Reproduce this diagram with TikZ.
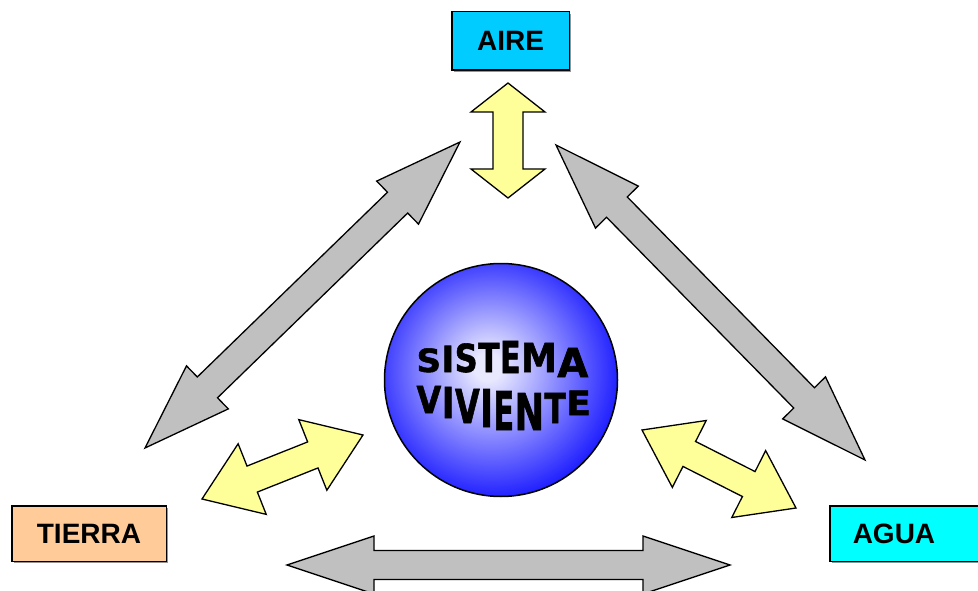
\documentclass[tikz,border=0pt]{standalone}
\usepackage{fontspec}
\setmainfont{Liberation Sans}
\newfontfamily\blobfont{DejaVu Sans}[BoldFeatures={FakeBold=1.5}]
\usetikzlibrary{calc,shadows}

\definecolor{airecol}{HTML}{00CCFF}
\definecolor{aguacol}{HTML}{00FFFF}
\definecolor{tierracol}{HTML}{FFCC99}
\definecolor{arrowgray}{HTML}{C0C0C0}
\definecolor{arrowyellow}{HTML}{FFFF99}
\definecolor{spherelight}{HTML}{E8E8FF}
\definecolor{sphereblue}{HTML}{2020FF}

\pgfdeclareradialshading{sphere}{\pgfpoint{-3bp}{3bp}}{color(0bp)=(spherelight); color(3bp)=(spherelight); color(27bp)=(sphereblue); color(60bp)=(sphereblue)}

% block double arrow: style, from, to, head length, head half width, shaft half width
\newcommand{\blockarrow}[6]{%
  \draw[#1] (#2) -- ($(#2)!#4!(#3)!#5!90:(#3)$) -- ($(#2)!#4!(#3)!#6!90:(#3)$)
    -- ($(#3)!#4!(#2)!#6!-90:(#2)$) -- ($(#3)!#4!(#2)!#5!-90:(#2)$) -- (#3)
    -- ($(#3)!#4!(#2)!#5!90:(#2)$) -- ($(#3)!#4!(#2)!#6!90:(#2)$)
    -- ($(#2)!#4!(#3)!#6!-90:(#3)$) -- ($(#2)!#4!(#3)!#5!-90:(#3)$) -- cycle;}

\tikzset{
labelbox/.style = {draw, line width=1.5pt, font=\bfseries\fontsize{28}{30}\selectfont, drop shadow={shadow xshift=2pt, shadow yshift=-2pt, fill=black!70, opacity=0.6}},
grayarrow/.style = {draw, line width=1.3pt, line join=miter, fill=arrowgray},
yellowarrow/.style = {draw, line width=1.3pt, line join=miter, fill=arrowyellow},
warp/.style = {font=\blobfont\bfseries\fontsize{40}{40}\selectfont, inner sep=0pt, anchor=base}
}

\begin{document}
\begin{tikzpicture}[x=1pt, y=-1pt]
	\useasboundingbox (0,0) rectangle (978,591);
	\clip (0,0) rectangle (978,591);

	\node[labelbox, fill=airecol, minimum width=117.5, minimum height=58.5] (aire) at (510.5,41) {AIRE};
	\node[labelbox, fill=tierracol, minimum width=154.5, minimum height=55.5] (tierra) at (89,533.5) {TIERRA};
	\node[labelbox, fill=aguacol, minimum height=55.5, inner xsep=23pt, text width=113.5pt, align=left] (agua) at (909.5,533.5) {AGUA};

	\node[circle, draw, line width=1.5pt, minimum size=233, inner sep=0pt, shading=sphere] (sistema) at (501,380) {};

	% arrow ends
	\coordinate (vtop) at (508,83);
	\coordinate (vbot) at (508,198);
	\coordinate (lgA) at (145,448);
	\coordinate (lgB) at (460,142);
	\coordinate (rgA) at (556,145);
	\coordinate (rgB) at (865,460);
	\coordinate (bgA) at (287,565);
	\coordinate (bgB) at (730,565);
	\coordinate (lyA) at (202,499);
	\coordinate (lyB) at (363,435);
	\coordinate (ryA) at (642,430);
	\coordinate (ryB) at (796,508);

	\blockarrow{yellowarrow}{vtop}{vbot}{29pt}{37pt}{15pt}
	\blockarrow{grayarrow}{lgA}{lgB}{87pt}{30pt}{14.5pt}
	\blockarrow{grayarrow}{rgA}{rgB}{87pt}{30pt}{14.5pt}
	\blockarrow{grayarrow}{bgA}{bgB}{87pt}{29pt}{14.5pt}
	\blockarrow{yellowarrow}{lyA}{lyB}{54pt}{38pt}{14pt}
	\blockarrow{yellowarrow}{ryA}{ryB}{53pt}{37.5pt}{14pt}

	% warped title
	\foreach \ch/\x/\b/\h/\w [count=\i] in {S/428.8/372/24/0.85, I/447.9/372/27/0.85, S/466.2/372/29/0.8, T/488.9/372/30/0.78, E/510.3/373/33/0.75, M/538.9/372/30/0.9, A/572.8/377/30/1.0}
		\node[warp, xscale=\w, yscale=\h/30] (sis\i) at (\x,\b) {\ch};
	\foreach \ch/\x/\b/\h/\w [count=\i] in {V/428.9/413/28/0.8, I/448.2/418/32/0.85, V/467.4/423/35/0.8, I/486.7/427/39/0.85, E/503.8/430/40/0.75, N/529.3/430/38/0.88, T/555.2/423/31/0.78, E/578.6/415/25/0.9}
		\node[warp, xscale=\w, yscale=\h/30] (viv\i) at (\x,\b) {\ch};

\end{tikzpicture}
\end{document}
